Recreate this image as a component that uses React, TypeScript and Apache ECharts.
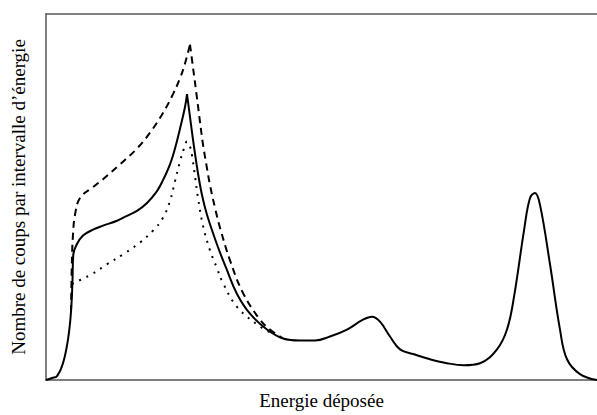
import React, { useEffect, useRef } from "react";
import * as echarts from "echarts";

// Energy (arbitrary units) and counts (arbitrary units)
const solidX = [0, 6, 11, 17, 22, 25, 26.5, 27.3, 30.7, 37, 47, 57, 71, 81, 91, 101, 111, 117, 124, 129, 134, 139, 141, 144, 147, 152, 156, 161, 171, 181, 191, 204, 221, 237, 254, 269, 284, 301, 317, 326, 334, 344, 354, 368, 384, 401, 418, 434, 451, 461, 468, 478, 484, 489, 494, 504, 514, 521, 534, 551];
const solidY = [0, 2, 4, 17, 41, 69, 101, 127, 137, 146, 152, 156, 161, 166, 171, 179, 191, 202, 218, 234, 254, 276, 289, 266, 243, 209, 187, 167, 137, 111, 87, 67, 51, 42, 40, 40, 44, 51, 61, 64, 59, 44, 31, 26, 21, 17, 15, 17, 31, 51, 84, 151, 184, 189, 177, 117, 51, 21, 6, 0];
const solidPeakIndex = 22;

const dashedX = [25, 26, 27, 29, 34, 47, 57, 74, 91, 104, 117, 127, 134, 139, 144, 147, 151, 154, 157, 161, 164, 169, 174, 184, 197, 214, 224, 237];
const dashedY = [69, 124, 147, 167, 184, 195, 203, 218, 234, 250, 270, 289, 305, 320, 339, 316, 285, 261, 238, 214, 197, 174, 154, 121, 88, 61, 51, 42];
const dashedPeakIndex = 14;

const dottedX = [26, 36, 46, 61, 77, 94, 107, 117, 124, 129, 134, 138, 141, 144, 146, 149, 152, 157, 164, 171, 177, 191, 214, 227];
const dottedY = [97, 102, 107, 117, 127, 139, 151, 164, 181, 201, 221, 234, 241, 236, 227, 206, 184, 156, 131, 113, 98, 74, 54, 47];

const xName = "Energie déposée";
const yName = "Nombre de coups par intervalle d\u2019énergie";

const zip = (xs: number[], ys: number[]) => xs.map((x, i) => [x, ys[i]]);

export default function App() {
  const ref = useRef<HTMLDivElement>(null);
  useEffect(() => {
    if (!ref.current) return;
    const chart = echarts.init(ref.current, undefined, { renderer: "svg" });
    const font = "'Liberation Serif', 'DejaVu Serif', serif";
    const axisLine = { show: true, lineStyle: { color: "#555", width: 1.5 } };
    const solid = zip(solidX, solidY);
    const dashed = zip(dashedX, dashedY);
    const dotted = zip(dottedX, dottedY);
    const solidStyle = { color: "#000", width: 2 };
    const dashedStyle = { color: "#000", width: 2, type: [7, 5] };
    const lineSeries = (data: number[][], lineStyle: any) => ({
      type: "line",
      data,
      showSymbol: false,
      smooth: 0.4,
      lineStyle,
    });
    chart.setOption({
      animation: false,
      backgroundColor: "#fff",
      grid: { left: 46, right: 0, top: 14, bottom: 31 },
      xAxis: [
        {
          type: "value",
          min: 0,
          max: 551,
          position: "bottom",
          axisLine,
          axisTick: { show: false },
          axisLabel: { show: false },
          splitLine: { show: false },
          name: xName,
          nameLocation: "middle",
          nameGap: 11,
          nameTextStyle: { color: "#000", fontSize: 19, fontFamily: font, verticalAlign: "top" },
        },
        {
          type: "value",
          min: 0,
          max: 551,
          position: "top",
          axisLine,
          axisTick: { show: false },
          axisLabel: { show: false },
          splitLine: { show: false },
        },
      ],
      yAxis: {
        type: "value",
        min: 0,
        max: 370,
        axisLine,
        axisTick: { show: false },
        axisLabel: { show: false },
        splitLine: { show: false },
        name: yName,
        nameLocation: "middle",
        nameGap: 18,
        nameTextStyle: { color: "#000", fontSize: 19, fontFamily: font },
      },
      series: [
        lineSeries(solid.slice(0, solidPeakIndex + 1), solidStyle),
        lineSeries(solid.slice(solidPeakIndex), solidStyle),
        lineSeries(dashed.slice(0, dashedPeakIndex + 1), dashedStyle),
        lineSeries(dashed.slice(dashedPeakIndex), dashedStyle),
        lineSeries(dotted, { color: "#000", width: 2, type: [2, 6] }),
      ],
    });
    return () => chart.dispose();
  }, []);
  return (
    <div
      ref={ref}
      style={{ position: "absolute", left: 0, top: 0, width: 597, height: 415 }}
    />
  );
}
